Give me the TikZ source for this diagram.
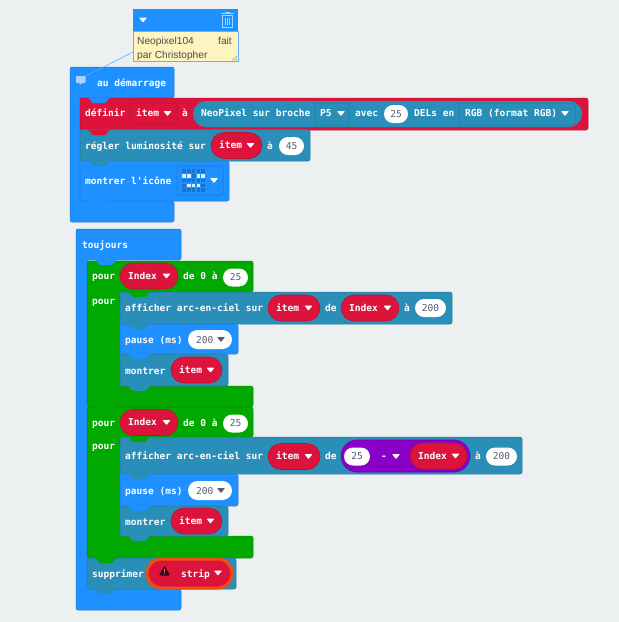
\documentclass[tikz,border=0pt]{standalone}
\usepackage{fontspec}
\setmonofont{DejaVu Sans Mono}
\newfontfamily\notefont{Liberation Sans}
\usetikzlibrary{shapes.misc}
\definecolor{pageback}{HTML}{ECF0F1}
\definecolor{griddot}{HTML}{DFE5E8}
\definecolor{mbblue}{HTML}{1E90FF}
\definecolor{mbred}{HTML}{DC143C}
\definecolor{mbteal}{HTML}{2A8FB8}
\definecolor{mbgreen}{HTML}{00A800}
\definecolor{mbpurple}{HTML}{8A00C8}
\definecolor{noteyellow}{HTML}{FDF4BF}
\definecolor{valuetext}{HTML}{575E75}
\definecolor{warnorange}{HTML}{EE4E0E}
\tikzset{
  blocktext/.style={anchor=base west, inner sep=0pt, text=white, font=\ttfamily\bfseries\fontsize{9.55}{11}\selectfont},
  valuepill/.style={rounded rectangle, fill=white, inner sep=0pt, minimum height=18pt, text=valuetext, font=\ttfamily\fontsize{9.55}{11}\selectfont},
  valuelbl/.style={anchor=base west, inner sep=0pt, text=valuetext, font=\ttfamily\fontsize{9.55}{11}\selectfont},
  varpill/.style={rounded rectangle, fill=mbred, draw=mbred!85!black, line width=.6pt, inner sep=0pt, minimum height=26pt},
  notetext/.style={anchor=base west, inner sep=0pt, text=black!70, font=\notefont\fontsize{10.2}{12}\selectfont},
  blockedge/.style={rounded corners=2pt, line width=.5pt}
}
% plain block, x1 y1 x2 y2 colour
\newcommand{\blockrect}[5]{\path[blockedge, fill=#5, draw=#5!85!black] (#1,#2) rectangle (#3,#4);}
% block with an inner opening, x1 y1 x2 y2 inner-x inner-y1 inner-y2 colour
\newcommand{\cblock}[8]{\path[blockedge, fill=#8, draw=#8!85!black] (#1,#2) -- (#3,#2) -- (#3,#6) -- (#5,#6) -- (#5,#7) -- (#3,#7) -- (#3,#4) -- (#1,#4) -- cycle;}
% the tab below a block
\newcommand{\blocktab}[3]{\fill[#3] ({#1+8},{#2-.5}) -- ({#1+13},{#2+5}) -- ({#1+25},{#2+5}) -- ({#1+30},{#2-.5}) -- cycle;}
\newcommand{\dropmark}[3]{\fill[#3, rounded corners=.6pt] ({#1-4},{#2-2.4}) -- ({#1+4},{#2-2.4}) -- (#1,{#2+2.6}) -- cycle;}
% variable pill, name x1 x2 ycentre text
\newcommand{\varbox}[5]{
  \pgfmathsetmacro\boxw{#3-#2}
  \node[varpill, minimum width=\boxw pt] (#1) at ({(#2+#3)/2},#4) {};
  \node[blocktext] (#1txt) at ({#2+8},{#4+3}) {#5};
  \dropmark{#3-11.5}{#4}{white}
}
% white number pill, name x1 x2 ycentre text
\newcommand{\numbox}[5]{
  \pgfmathsetmacro\boxw{#3-#2}
  \node[valuepill, minimum width=\boxw pt] (#1) at ({(#2+#3)/2},#4) {#5};
}
% dropdown field, name x1 y1 x2 y2 colour
\newcommand{\fieldbox}[6]{\path[rounded corners=2pt, draw=#6!80!black, line width=.5pt] (#2,#3) rectangle (#4,#5) node[midway, inner sep=0pt] (#1) {};}
\begin{document}
\begin{tikzpicture}[x=1pt,y=-1pt]
  \fill[pageback] (0,0) rectangle (619,622);
  \useasboundingbox (0,0) rectangle (619,622);
  % workspace dots
  \foreach \i in {0,...,20}
    \foreach \j in {0,...,20}
      \fill[griddot] ({23.1+29.3*\i},{13+29.3*\j}) circle (.9pt);

  % comment box
  \node[fill=mbblue, minimum width=105pt, minimum height=22pt, inner sep=0pt] (notehead) at (185.5,20) {};
  \node[fill=noteyellow, draw=mbblue!70, line width=.5pt, minimum width=105pt, minimum height=30pt, inner sep=0pt] (notebody) at (185.5,46) {};
  \dropmark{143}{20}{white}
  \draw[white!60!mbblue, line width=.9pt] (222.5,15) rectangle (232.5,27) (221,13.5) -- (234,13.5) (225.5,13.5) -- (225.5,12) -- (229.5,12) -- (229.5,13.5);
  \draw[white!60!mbblue, line width=.9pt] (225.2,17.5) -- (225.2,24.5) (227.5,17.5) -- (227.5,24.5) (229.8,17.5) -- (229.8,24.5);
  \draw[black!40, line width=.5pt] (232,60.5) -- (237.5,55.5) (235,60.5) -- (237.5,58.5);
  \node[notetext] (notea) at (137,44.5) {Neopixel104};
  \node[notetext, anchor=base east] (noteb) at (232,44.5) {fait};
  \node[notetext] (notec) at (137,58.5) {par Christopher};
  \coordinate (noteanchor) at (133,52);

  % au demarrage
  \cblock{70}{67}{174}{222}{80}{98}{201}{mbblue}
  \coordinate (noteicon) at (80,79);
  \draw[mbblue!75!white, line width=.6pt] (noteanchor) -- (noteicon);
  \fill[white!60!mbblue, rounded corners=.8pt] (76,76) -- (85.5,76) -- (85.5,83) -- (82,83) -- (80,85) -- (80,83) -- (76,83) -- cycle;
  \node[blocktext] (startlbl) at (97,86) {au démarrage};
  \blockrect{80}{98}{588}{130}{mbred}
  \blockrect{80}{129.5}{310}{161}{mbteal}
  \blockrect{80}{161}{229}{201}{mbblue}
  \blocktab{80}{98}{mbblue}
  \blocktab{80}{130}{mbred}
  \blocktab{80}{161}{mbteal}
  \blocktab{80}{201}{mbblue}
  % definir line
  \node[blocktext] (setlbl) at (85,116.5) {définir};
  \fieldbox{setfield}{130}{103}{177}{124}{mbred}
  \node[blocktext] (setitem) at (136,116.5) {item};
  \dropmark{167.5}{113.5}{white}
  \node[blocktext] (setto) at (182,116.5) {à};
  \node[rounded rectangle, fill=mbteal, inner sep=0pt, minimum width=389pt, minimum height=26pt] (neopill) at (387.5,114) {};
  \node[blocktext] (neolbl) at (201,116.5) {NeoPixel sur broche};
  \fieldbox{pinfield}{315}{103}{349}{125}{mbteal}
  \node[blocktext] (pinlbl) at (320,116.5) {P5};
  \dropmark{341}{113.5}{white}
  \node[blocktext] (withlbl) at (355,116.5) {avec};
  \numbox{ledcount}{384}{408}{114}{25}
  \node[blocktext] (ledlbl) at (414,116.5) {DELs en};
  \fieldbox{rgbfield}{459}{103}{575}{125}{mbteal}
  \node[blocktext] (rgblbl) at (465,116.5) {RGB (format RGB)};
  \dropmark{565}{113.5}{white}
  % luminosite line
  \node[blocktext] (brightlbl) at (85,149) {régler luminosité sur};
  \varbox{brightitem}{211}{262}{145.5}{item}
  \node[blocktext] (brightto) at (267,149) {à};
  \numbox{brightval}{279}{304}{146}{45}
  % icone line
  \node[blocktext] (iconlbl) at (85,184) {montrer l'icône};
  \fieldbox{iconfield}{177}{166}{223}{195}{mbblue}
  \foreach \r in {0,...,4}
    \foreach \c in {0,...,4}
      \fill[mbblue!80!black] ({182.4+4.7*\c},{169.4+4.7*\r}) rectangle +(3.6,3.6);
  \foreach \r/\c in {1/0,1/1,1/3,1/4,3/1,3/2,3/3}
    \fill[white!85!mbblue] ({182.4+4.7*\c},{169.4+4.7*\r}) rectangle +(3.6,3.6);
  \dropmark{214}{180.5}{white}

  % toujours
  \cblock{76}{229}{181}{610}{87}{260}{589}{mbblue}
  \node[blocktext] (foreverlbl) at (82,248.5) {toujours};
  \cblock{87}{261}{253}{407}{120}{292}{386}{mbgreen}
  \cblock{87}{407}{253}{558}{120}{437}{536}{mbgreen}
  \blockrect{87}{558}{236}{589}{mbteal}
  % first loop
  \blockrect{120}{292}{452}{324}{mbteal}
  \blockrect{120}{324}{238}{354}{mbblue}
  \blockrect{120}{354}{228}{386}{mbteal}
  % second loop
  \blockrect{120}{437}{522}{474}{mbteal}
  \blockrect{120}{474}{238}{506}{mbblue}
  \blockrect{120}{506}{228}{536}{mbteal}
  % tabs
  \blocktab{87}{260}{mbblue}
  \blocktab{120}{292}{mbgreen}
  \blocktab{120}{324}{mbteal}
  \blocktab{120}{354}{mbblue}
  \blocktab{120}{386}{mbteal}
  \blocktab{87}{407}{mbgreen}
  \blocktab{120}{437}{mbgreen}
  \blocktab{120}{474}{mbteal}
  \blocktab{120}{506}{mbblue}
  \blocktab{120}{536}{mbteal}
  \blocktab{87}{558}{mbgreen}
  \blocktab{87}{589}{mbteal}

  % first loop, text and values
  \node[blocktext] (loopa) at (92,279.5) {pour};
  \varbox{loopavar}{120}{178}{276}{Index}
  \node[blocktext] (loopafrom) at (183,279.5) {de 0 à};
  \numbox{loopaend}{223}{248}{277.5}{25}
  \node[blocktext] (loopado) at (92,304.5) {pour};
  \node[blocktext] (rainalbl) at (125,311.5) {afficher arc-en-ciel sur};
  \varbox{rainaitem}{268}{320}{308}{item}
  \node[blocktext] (rainade) at (325,311.5) {de};
  \varbox{rainavar}{341}{399}{308}{Index}
  \node[blocktext] (rainato) at (404,311.5) {à};
  \numbox{rainaval}{415}{446}{308}{200}
  \node[blocktext] (pausealbl) at (125,343.5) {pause (ms)};
  \node[valuepill, minimum width=44pt, minimum height=19pt] (pauseapill) at (210,339.5) {};
  \node[valuelbl] (pauseaval) at (196,343) {200};
  \dropmark{221}{339.5}{valuetext}
  \node[blocktext] (showalbl) at (125,374.5) {montrer};
  \varbox{showaitem}{171}{222}{370}{item}

  % second loop, text and values
  \node[blocktext] (loopb) at (92,426.5) {pour};
  \varbox{loopbvar}{120}{178}{422.5}{Index}
  \node[blocktext] (loopbfrom) at (183,426.5) {de 0 à};
  \numbox{loopbend}{223}{248}{423.5}{25}
  \node[blocktext] (loopbdo) at (92,449.5) {pour};
  \node[blocktext] (rainblbl) at (125,459.5) {afficher arc-en-ciel sur};
  \varbox{rainbitem}{268}{320}{456.5}{item}
  \node[blocktext] (rainbde) at (325,459.5) {de};
  \node[rounded rectangle, fill=mbpurple, draw=mbpurple!85!black, line width=.6pt, inner sep=0pt, minimum width=129pt, minimum height=32pt] (minuspill) at (405.5,456) {};
  \numbox{minusleft}{344}{370}{456.5}{25}
  \fieldbox{minusfield}{375}{447}{405}{466}{mbpurple}
  \node[blocktext] (minuslbl) at (381,459.5) {-};
  \dropmark{396}{456.5}{white}
  \varbox{minusvar}{410}{467}{456}{Index}
  \node[blocktext] (rainbto) at (475,459.5) {à};
  \numbox{rainbval}{486}{517}{456.5}{200}
  \node[blocktext] (pauseblbl) at (125,494) {pause (ms)};
  \node[valuepill, minimum width=44pt, minimum height=19pt] (pausebpill) at (210,490.5) {};
  \node[valuelbl] (pausebval) at (196,494) {200};
  \dropmark{221}{490.5}{valuetext}
  \node[blocktext] (showblbl) at (125,525) {montrer};
  \varbox{showbitem}{171}{222}{521}{item}

  % supprimer
  \node[blocktext] (dellbl) at (92,577) {supprimer};
  \node[rounded rectangle, fill=mbred, draw=warnorange, line width=3pt, inner sep=0pt, minimum width=85pt, minimum height=29pt] (delpill) at (189.5,573.5) {};
  \fill[black!75!mbred, rounded corners=1pt] (159,575.5) -- (164.5,565.5) -- (170,575.5) -- cycle;
  \draw[mbred!60!white, line width=.9pt] (164.5,568.5) -- (164.5,572) (164.5,573) -- (164.5,574);
  \node[blocktext] (delitem) at (181,577) {strip};
  \dropmark{218}{573}{white}
\end{tikzpicture}
\end{document}
